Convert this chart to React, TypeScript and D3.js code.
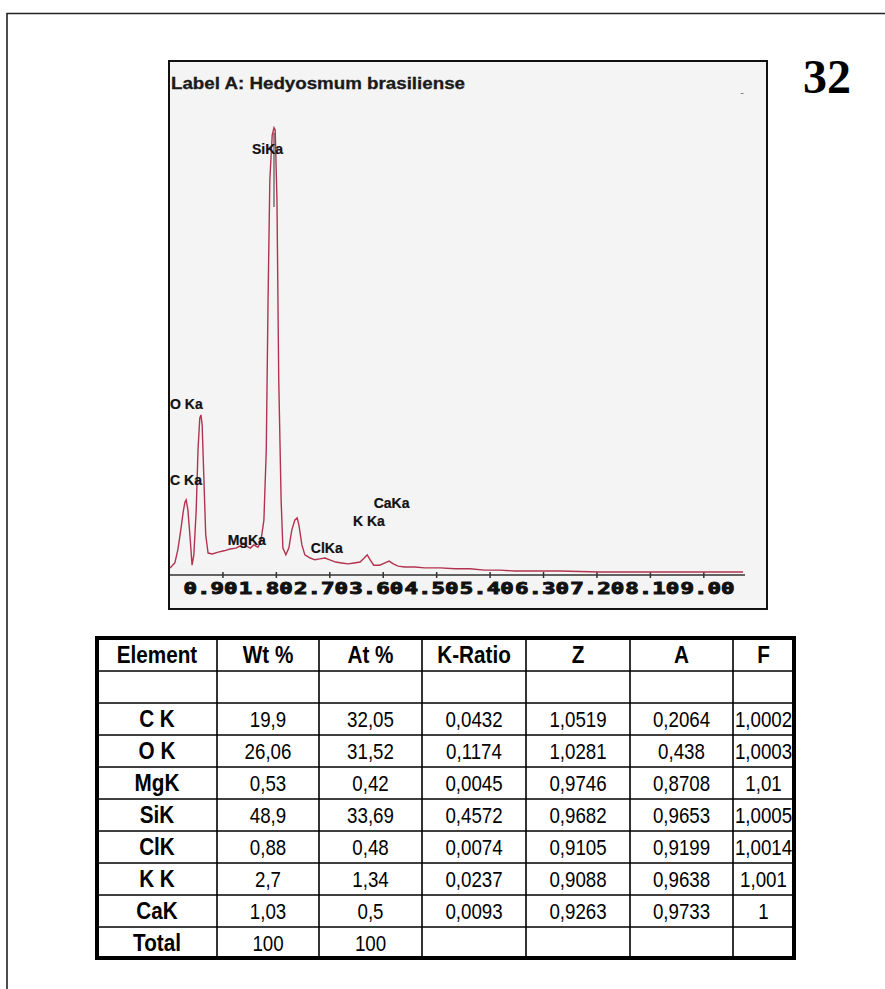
import React, { useEffect, useRef } from 'react';
import * as d3 from 'd3';

// EDS spectrum (energy in keV, counts)
const spectrumKeV = [
  0.01, 0.04, 0.09, 0.14, 0.19, 0.23, 0.26, 0.28, 0.31, 0.35, 0.38, 0.41, 0.45, 0.48,
  0.51, 0.53, 0.55, 0.58, 0.61, 0.65, 0.72, 0.82, 0.92, 1.02, 1.12, 1.19, 1.24, 1.29,
  1.36, 1.42, 1.49, 1.54, 1.59, 1.63, 1.66, 1.69, 1.73, 1.76, 1.78, 1.81, 1.84, 1.88,
  1.91, 1.96, 2.01, 2.06, 2.11, 2.15, 2.18, 2.23, 2.28, 2.37, 2.45, 2.53, 2.62, 2.7,
  2.8, 2.9, 3.01, 3.11, 3.21, 3.28, 3.33, 3.38, 3.44, 3.54, 3.63, 3.7, 3.77, 3.85,
  3.96, 4.13, 4.3, 4.56, 4.81, 5.06, 5.31, 5.56, 5.82, 6.07, 6.58, 7.25, 8.09, 8.94, 9.66,
];
const spectrumCounts = [
  18, 22, 29, 58, 102, 142, 164, 169, 147, 80, 24, 47, 147, 280,
  351, 358, 336, 213, 91, 51, 49, 53, 56, 60, 62, 67, 73, 67,
  62, 69, 64, 78, 124, 280, 613, 880, 980, 996, 991, 836, 436, 169,
  62, 47, 62, 102, 124, 129, 113, 69, 47, 40, 36, 38, 40, 36,
  31, 29, 27, 29, 31, 40, 47, 36, 24, 24, 29, 33, 27, 22,
  20, 20, 18, 18, 16, 16, 13, 13, 11, 11, 11, 9, 9, 9, 9,
];

// peak labels: text, energy of label start, count level of baseline
const peakNames = ['SiKa', 'O Ka', 'C Ka', 'MgKa', 'ClKa', 'K Ka', 'CaKa'];
const peakLabelKeV = [1.39, 0.01, 0.01, 0.98, 2.38, 3.09, 3.44];
const peakLabelCounts = [938, 371, 202, 69, 51, 111, 151];

const axisTicks = [0.9, 1.8, 2.7, 3.6, 4.5, 5.4, 6.3, 7.2, 8.1, 9.0];
const axisTickLabels = ['0.90', '1.80', '2.70', '3.60', '4.50', '5.40', '6.30', '7.20', '8.10', '9.00'];

// quantification table
const tableHeaders = ['Element', 'Wt %', 'At %', 'K-Ratio', 'Z', 'A', 'F'];
const elements = ['C K', 'O K', 'MgK', 'SiK', 'ClK', 'K K', 'CaK'];
const wtPercent = [19.9, 26.06, 0.53, 48.9, 0.88, 2.7, 1.03];
const atPercent = [32.05, 31.52, 0.42, 33.69, 0.48, 1.34, 0.5];
const kRatio = [0.0432, 0.1174, 0.0045, 0.4572, 0.0074, 0.0237, 0.0093];
const zFactor = [1.0519, 1.0281, 0.9746, 0.9682, 0.9105, 0.9088, 0.9263];
const aFactor = [0.2064, 0.438, 0.8708, 0.9653, 0.9199, 0.9638, 0.9733];
const fFactor = [1.0002, 1.0003, 1.01, 1.0005, 1.0014, 1.001, 1];
const totalRow = ['Total', '100', '100', '', '', '', ''];

const fmt = (v: number) => String(v).replace('.', ',');

const App = () => {
  const ref = useRef<SVGSVGElement | null>(null);

  useEffect(() => {
    if (!ref.current) return;
    const svg = d3.select(ref.current);
    svg.selectAll('*').remove();

    // outer frame
    svg.append('path')
      .attr('d', 'M7,989 V13.5 H885')
      .attr('fill', 'none')
      .attr('stroke', '#222')
      .attr('stroke-width', 1.6);

    // page number
    svg.append('text')
      .attr('x', 803)
      .attr('y', 93)
      .style('font-family', '"Liberation Serif", "Times New Roman", serif')
      .style('font-weight', 'bold')
      .style('font-size', '48px')
      .text('32');

    // spectrum panel
    const panel = { x: 169, y: 61, w: 598, h: 548 };
    svg.append('rect')
      .attr('x', panel.x)
      .attr('y', panel.y)
      .attr('width', panel.w)
      .attr('height', panel.h)
      .attr('fill', '#f4f4f4')
      .attr('stroke', '#111')
      .attr('stroke-width', 2);

    svg.append('text')
      .attr('x', 171)
      .attr('y', 89)
      .attr('textLength', 294)
      .attr('lengthAdjust', 'spacingAndGlyphs')
      .style('font-family', '"Liberation Sans", Arial, sans-serif')
      .style('font-weight', 'bold')
      .style('font-size', '16px')
      .attr('fill', '#1a1a1a')
      .attr('stroke', '#1a1a1a')
      .attr('stroke-width', 0.3)
      .text('Label A: Hedyosmum brasiliense');

    svg.append('text')
      .attr('x', 742)
      .attr('y', 96)
      .attr('text-anchor', 'middle')
      .style('font-family', '"Liberation Sans", Arial, sans-serif')
      .style('font-size', '11px')
      .attr('fill', '#777')
      .text('-');

    const x = d3.scaleLinear().domain([0, 9.66]).range([169.5, 743]);
    const y = d3.scaleLinear().domain([0, 1000]).range([576, 126]);

    // axis
    const axisY = 575;
    svg.append('line')
      .attr('x1', 170).attr('x2', 745)
      .attr('y1', axisY).attr('y2', axisY)
      .attr('stroke', '#333')
      .attr('stroke-width', 1.5);
    svg.selectAll('.tick')
      .data(axisTicks)
      .enter()
      .append('line')
      .attr('x1', d => x(d)).attr('x2', d => x(d))
      .attr('y1', axisY - 3).attr('y2', axisY + 3)
      .attr('stroke', '#333')
      .attr('stroke-width', 1.5);
    // labels run together as one strip, slightly wider than the tick spacing
    svg.selectAll('.tick-label')
      .data(axisTickLabels)
      .enter()
      .append('text')
      .attr('x', (d, i) => x(axisTicks[i]) - 12.4 + i * 1.8)
      .attr('y', 594)
      .attr('text-anchor', 'middle')
      .attr('textLength', 54)
      .attr('lengthAdjust', 'spacingAndGlyphs')
      .style('font-family', '"DejaVu Sans Mono", monospace')
      .style('font-weight', 'bold')
      .style('font-size', '15px')
      .attr('fill', '#111')
      .attr('stroke', '#111')
      .attr('stroke-width', 0.9)
      .text(d => d);

    // spectrum line
    const pts = spectrumKeV.map((k, i) => [k, spectrumCounts[i]] as [number, number]);
    const line = d3.line<[number, number]>()
      .x(d => x(d[0]))
      .y(d => y(d[1]));
    svg.append('path')
      .datum(pts)
      .attr('d', line)
      .attr('fill', 'none')
      .attr('stroke', '#b2334f')
      .attr('stroke-width', 1.4);

    // marker line through Si peak
    svg.append('line')
      .attr('x1', x(1.76)).attr('x2', x(1.76))
      .attr('y1', y(985)).attr('y2', y(820))
      .attr('stroke', '#333')
      .attr('stroke-width', 1);

    // peak labels
    svg.selectAll('.peak-label')
      .data(peakNames)
      .enter()
      .append('text')
      .attr('x', (d, i) => x(peakLabelKeV[i]))
      .attr('y', (d, i) => y(peakLabelCounts[i]))
      .style('font-family', '"Liberation Sans", Arial, sans-serif')
      .style('font-weight', 'bold')
      .style('font-size', '14px')
      .attr('fill', '#111')
      .attr('stroke', '#111')
      .attr('stroke-width', 0.2)
      .text(d => d);

    // table
    const colW = [120, 102, 103, 104, 104, 103, 61];
    const colX = [97];
    colW.forEach((w, i) => colX.push(colX[i] + w));
    const rowH = [33, 32, 32, 32, 32, 32, 32, 32, 32, 31];
    const rowY = [638];
    rowH.forEach((h, i) => rowY.push(rowY[i] + h));
    const tLeft = colX[0];
    const tRight = colX[colX.length - 1];
    const tTop = rowY[0];
    const tBottom = rowY[rowY.length - 1];

    const rows: string[][] = [
      tableHeaders,
      ['', '', '', '', '', '', ''],
      ...elements.map((e, i) => [
        e, fmt(wtPercent[i]), fmt(atPercent[i]), fmt(kRatio[i]),
        fmt(zFactor[i]), fmt(aFactor[i]), fmt(fFactor[i]),
      ]),
      totalRow,
    ];

    const tg = svg.append('g');
    rowY.slice(1, -1).forEach(ry => {
      tg.append('line')
        .attr('x1', tLeft).attr('x2', tRight)
        .attr('y1', ry).attr('y2', ry)
        .attr('stroke', '#000').attr('stroke-width', 1.6);
    });
    colX.slice(1, -1).forEach(cx => {
      tg.append('line')
        .attr('x1', cx).attr('x2', cx)
        .attr('y1', tTop).attr('y2', tBottom)
        .attr('stroke', '#000').attr('stroke-width', 1.6);
    });
    tg.append('rect')
      .attr('x', tLeft).attr('y', tTop)
      .attr('width', tRight - tLeft).attr('height', tBottom - tTop)
      .attr('fill', 'none')
      .attr('stroke', '#000')
      .attr('stroke-width', 4);

    rows.forEach((r, ri) => {
      r.forEach((cell, ci) => {
        if (!cell) return;
        const bold = ri === 0 || ci === 0;
        const cx = (colX[ci] + colX[ci + 1]) / 2;
        const cy = (rowY[ri] + rowY[ri + 1]) / 2 + 8;
        // narrow face is not installed: squeeze the regular one
        const sx = bold ? 0.9 : 0.87;
        tg.append('text')
          .attr('transform', `translate(${cx},${cy}) scale(${sx},1)`)
          .attr('text-anchor', 'middle')
          .style('font-family', '"Liberation Sans", Arial, sans-serif')
          .style('font-weight', bold ? 'bold' : 'normal')
          .style('font-size', bold ? '23px' : '21.5px')
          .attr('fill', '#000')
          .text(cell);
      });
    });
  }, []);

  return (
    <div style={{ position: 'absolute', left: 0, top: 0 }}>
      <svg ref={ref} width={885} height={989} style={{ display: 'block', background: '#fff' }} />
    </div>
  );
};

export default App;
